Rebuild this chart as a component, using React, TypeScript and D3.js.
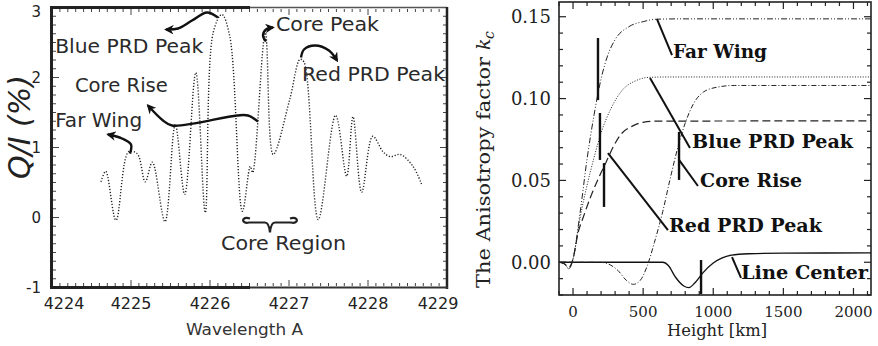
import React from 'react';
import * as d3 from 'd3';

// ---------- Left panel data (Q/I spectrum) ----------
const wavelengths = [
  4224.62, 4224.68, 4224.81, 4224.97, 4225.08, 4225.18, 4225.27, 4225.43, 4225.56, 4225.68,
  4225.82, 4225.94, 4226.04, 4226.15, 4226.25, 4226.41, 4226.51, 4226.54, 4226.70, 4226.80,
  4227.01, 4227.14, 4227.19, 4227.37, 4227.59, 4227.73, 4227.81, 4227.92, 4228.06, 4228.19,
  4228.28, 4228.41, 4228.57, 4228.68,
];
const qOverI = [
  0.51, 0.66, -0.04, 0.94, 0.91, 0.51, 0.79, -0.06, 1.33, 0.33,
  2.07, 0.07, 2.64, 2.9, 2.59, 0.09, 0.73, 0.64, 2.64, 0.9,
  1.69, 2.26, 2.22, -0.03, 1.46, 0.59, 1.44, 0.36, 1.16, 0.94,
  0.87, 0.9, 0.73, 0.47,
];
const leftXTicks = [4224, 4225, 4226, 4227, 4228, 4229];
const leftYTicks = [-1, 0, 1, 2, 3];

// ---------- Right panel data (anisotropy factor vs height) ----------
const farWingH = [-100, -60, -30, 0, 50, 100, 150, 200, 250, 300, 400, 500, 600, 800, 2125];
const farWingK = [0, -0.001, -0.004, 0.002, 0.03, 0.063, 0.09, 0.112, 0.127, 0.136, 0.144, 0.147, 0.1485, 0.1487, 0.1487];
const bluePrdH = [-100, -60, -30, 0, 50, 100, 150, 200, 271, 350, 450, 548, 700, 2125];
const bluePrdK = [0, -0.001, -0.004, 0.002, 0.027, 0.047, 0.064, 0.079, 0.094, 0.105, 0.111, 0.113, 0.1132, 0.1132];
const coreRiseH = [-100, 190, 250, 320, 380, 430, 480, 530, 580, 640, 690, 750, 800, 860, 930, 1030, 1150, 2125];
const coreRiseK = [0, 0, -0.001, -0.005, -0.011, -0.0135, -0.011, -0.002, 0.012, 0.031, 0.05, 0.071, 0.085, 0.097, 0.104, 0.107, 0.108, 0.108];
const redPrdH = [-100, -60, -30, 0, 36, 71, 121, 180, 235, 290, 340, 420, 500, 600, 2125];
const redPrdK = [0, -0.001, -0.003, 0.002, 0.018, 0.027, 0.039, 0.051, 0.061, 0.071, 0.078, 0.083, 0.0855, 0.0862, 0.0864];
const lineCenterH = [-100, 640, 680, 730, 790, 826, 870, 926, 1000, 1060, 1130, 1250, 1500, 2125];
const lineCenterK = [0, 0, -0.002, -0.009, -0.0145, -0.0155, -0.0125, -0.0065, -0.0005, 0.0025, 0.0043, 0.0052, 0.0056, 0.0057];
const rightXTicks = [0, 500, 1000, 1500, 2000];
const rightYTicks = [0, 0.05, 0.1, 0.15];

const SANS = 'DejaVu Sans, Verdana, sans-serif';
const SERIF = 'DejaVu Serif, Liberation Serif, serif';

export default function App() {
  const xL = d3.scaleLinear().domain([4224, 4229]).range([52, 447]);
  const yL = d3.scaleLinear().domain([-1, 3]).range([287.5, 7.5]);
  const xR = d3.scaleLinear().domain([-100, 2125]).range([559, 871]);
  const yR = d3.scaleLinear().domain([-0.02, 0.159]).range([295, 2]);

  const spec = d3
    .line<number>()
    .x((_, i) => xL(wavelengths[i]))
    .y((d) => yL(d))
    .curve(d3.curveCatmullRom.alpha(0.5));

  const lineR = (hs: number[]) =>
    d3
      .line<number>()
      .x((_, i) => xR(hs[i]))
      .y((d) => yR(d))
      .curve(d3.curveMonotoneX);

  const arrowL = d3
    .line<[number, number]>()
    .x((d) => xL(d[0]))
    .y((d) => yL(d[1]))
    .curve(d3.curveCatmullRom.alpha(0.5));

  // annotation arrows in data coords (left)
  const arrows: [number, number][][] = [
    [[4226.101, 2.857], [4225.962, 2.929], [4225.772, 2.814], [4225.595, 2.7], [4225.443, 2.686]],
    [[4226.709, 2.514], [4226.671, 2.6], [4226.709, 2.686], [4226.797, 2.714]],
    [[4227.152, 2.286], [4227.19, 2.4], [4227.329, 2.457], [4227.506, 2.386], [4227.608, 2.243]],
    [[4224.987, 0.914], [4225.0, 1.043], [4224.886, 1.129], [4224.709, 1.186]],
  ];
  const coreRiseArrow: [number, number][] = [
    [4226.608, 1.371], [4226.481, 1.457], [4226.342, 1.457], [4225.519, 1.314], [4225.405, 1.386], [4225.215, 1.6],
  ];

  const leftLabels = [
    { t: 'Blue PRD Peak', x: 4224.04, y: 2.357, w: 148 },
    { t: 'Core Rise', x: 4224.29, y: 1.8, w: 93 },
    { t: 'Far Wing', x: 4224.04, y: 1.3, w: 87 },
    { t: 'Core Peak', x: 4226.835, y: 2.671, w: 103 },
    { t: 'Red PRD Peak', x: 4227.165, y: 1.957, w: 143 },
    { t: 'Core Region', x: 4226.139, y: -0.471, w: 125 },
  ];

  // brace
  const bxl = xL(4226.443), bxr = xL(4227.076), bxc = xL(4226.759);
  const byt = yL(-0.057), byb = yL(-0.214);
  const brace = `M ${bxl + 5},${byt - 3} C ${bxl - 4},${byt - 6} ${bxl - 4},${byt + 3} ${bxl + 4},${byt + 1}
    L ${bxc - 5},${byt + 1} Q ${bxc - 1},${byt + 1} ${bxc},${byb} Q ${bxc + 1},${byt + 1} ${bxc + 5},${byt + 1}
    L ${bxr - 4},${byt + 1} C ${bxr + 4},${byt + 3} ${bxr + 4},${byt - 6} ${bxr - 5},${byt - 3}`;

  // right annotations
  const bars = [
    [178, 0.0991, 0.137],
    [192, 0.0625, 0.0912],
    [221, 0.0338, 0.0606],
    [756, 0.0503, 0.0796],
    [913, -0.0194, 0.0014],
  ];
  const leaders = [
    [599, 0.1486, 706, 0.1266],
    [549, 0.1126, 834, 0.0698],
    [756, 0.0625, 891, 0.0466],
    [249, 0.0667, 677, 0.0197],
    [1134, 0.0032, 1198, -0.0096],
  ];
  const rightLabels = [
    { t: 'Far Wing', h: 713, k: 0.1248, w: 94 },
    { t: 'Blue PRD Peak', h: 849, k: 0.0698, w: 161 },
    { t: 'Core Rise', h: 906, k: 0.046, w: 102 },
    { t: 'Red PRD Peak', h: 684, k: 0.0185, w: 153 },
    { t: 'Line Center', h: 1198, k: -0.0102, w: 127 },
  ];

  const lxMinor = d3.range(4224, 4229.001, 0.1);
  const lyMinor = d3.range(-1, 3.001, 0.125);
  const rxMinor = d3.range(-100, 2125, 100);
  const ryMinor = d3.range(-0.02, 0.159, 0.01);

  return (
    <svg width={878} height={346} style={{ position: 'absolute', left: 0, top: 0, background: '#fff' }}>
      <defs>
        <marker id="ah" viewBox="0 0 10 10" refX="8" refY="5" markerWidth="4" markerHeight="4" orient="auto" markerUnits="strokeWidth">
          <path d="M0,0 L10,5 L0,10 L3,5 Z" fill="#111" />
        </marker>
      </defs>

      {/* ---------------- LEFT PANEL ---------------- */}
      <g>
        {lxMinor.map((t, i) => {
          const major = Math.abs(t - Math.round(t)) < 1e-6;
          return (
            <g key={'lx' + i} stroke="#444" strokeWidth={1}>
              <line x1={xL(t)} x2={xL(t)} y1={286} y2={major ? 280 : 283} />
              <line x1={xL(t)} x2={xL(t)} y1={9} y2={major ? 15 : 12} />
            </g>
          );
        })}
        {lyMinor.map((t, i) => {
          const major = Math.abs(t - Math.round(t)) < 1e-6;
          return (
            <g key={'ly' + i} stroke="#444" strokeWidth={1}>
              <line x1={53} x2={major ? 59 : 56} y1={yL(t)} y2={yL(t)} />
              <line x1={446} x2={major ? 440 : 443} y1={yL(t)} y2={yL(t)} />
            </g>
          );
        })}
        <line x1={250} x2={447} y1={7.5} y2={7.5} stroke="#555" strokeWidth={1.5} />
        <line x1={51} x2={250} y1={7.5} y2={7.5} stroke="#222" strokeWidth={3} />
        <line x1={447} x2={447} y1={7} y2={289} stroke="#222" strokeWidth={2.5} />
        <line x1={250} x2={448} y1={287.5} y2={287.5} stroke="#333" strokeWidth={2} />
        <line x1={50} x2={250} y1={287.5} y2={287.5} stroke="#222" strokeWidth={3} />
        <line x1={51.5} x2={51.5} y1={6} y2={289} stroke="#222" strokeWidth={3} />

        {leftYTicks.map((t) => (
          <text key={'lyt' + t} x={41} y={Math.max(yL(t), 12)} dy="0.35em" textAnchor="end" fontFamily={SANS} fontSize={15} fill="#222">
            {t}
          </text>
        ))}
        {leftXTicks.map((t) => (
          <text key={'lxt' + t} x={Math.min(Math.max(xL(t), 64), 438)} y={309} textAnchor="middle" fontFamily={SANS} fontSize={16} fill="#222">
            {t}
          </text>
        ))}
        <text x={186} y={335} fontFamily={SANS} fontSize={16} fill="#333" textLength={117} lengthAdjust="spacingAndGlyphs">
          Wavelength A
        </text>
        <text transform="translate(30,127) rotate(-90)" textAnchor="middle" fontFamily={SANS} fontSize={30} fontStyle="italic" fill="#222">
          Q/I (%)
        </text>

        <path d={spec(qOverI) || ''} fill="none" stroke="#222" strokeWidth={1.4} strokeDasharray="1.2,1.8" />

        {arrows.map((a, i) => (
          <path key={'ar' + i} d={arrowL(a) || ''} fill="none" stroke="#111" strokeWidth={2.4} markerEnd="url(#ah)" />
        ))}
        <path d={arrowL(coreRiseArrow) || ''} fill="none" stroke="#111" strokeWidth={2.4} markerEnd="url(#ah)" />
        <path d={brace} fill="none" stroke="#222" strokeWidth={2.2} />
        {leftLabels.map((l) => (
          <text key={l.t} x={xL(l.x)} y={yL(l.y)} fontFamily={SANS} fontSize={19} fill="#2a2a2a" textLength={l.w} lengthAdjust="spacingAndGlyphs">
            {l.t}
          </text>
        ))}
      </g>

      {/* ---------------- RIGHT PANEL ---------------- */}
      <g>
        {rxMinor.map((t, i) => {
          const major = t % 500 === 0;
          return (
            <g key={'rx' + i} stroke="#222" strokeWidth={1.2}>
              <line x1={xR(t)} x2={xR(t)} y1={295} y2={major ? 288 : 291} />
              <line x1={xR(t)} x2={xR(t)} y1={2} y2={major ? 9 : 6} />
            </g>
          );
        })}
        {ryMinor.map((t, i) => {
          const major = Math.abs(t / 0.05 - Math.round(t / 0.05)) < 1e-6;
          return (
            <g key={'ry' + i} stroke="#222" strokeWidth={1.2}>
              <line x1={559} x2={major ? 566 : 563} y1={yR(t)} y2={yR(t)} />
              <line x1={871} x2={major ? 864 : 867} y1={yR(t)} y2={yR(t)} />
            </g>
          );
        })}
        <rect x={559} y={2} width={312} height={293} fill="none" stroke="#222" strokeWidth={1.6} />

        {rightYTicks.map((t) => (
          <text key={'ryt' + t} x={551} y={yR(t)} dy="0.36em" textAnchor="end" fontFamily={SERIF} fontSize={18} fill="#222">
            {t.toFixed(2)}
          </text>
        ))}
        {rightXTicks.map((t) => (
          <text key={'rxt' + t} x={xR(t)} y={317} textAnchor="middle" fontFamily={SERIF} fontSize={15} fill="#222">
            {t}
          </text>
        ))}
        <text x={667} y={336} fontFamily={SERIF} fontSize={16} fill="#222" textLength={100} lengthAdjust="spacingAndGlyphs">
          Height [km]
        </text>
        <g transform="translate(490,288) rotate(-90)">
          <text x={0} y={0} fontFamily={SERIF} fontSize={19} fill="#222" textLength={231} lengthAdjust="spacingAndGlyphs">
            The Anisotropy factor
          </text>
          <text x={238} y={0} fontFamily={SERIF} fontSize={19} fontStyle="italic" fill="#222">
            k
          </text>
          <text x={249} y={4} fontFamily={SERIF} fontSize={14} fontStyle="italic" fill="#222">
            c
          </text>
        </g>

        <path d={lineR(lineCenterH)(lineCenterK) || ''} fill="none" stroke="#111" strokeWidth={1.3} />
        <path d={lineR(coreRiseH)(coreRiseK) || ''} fill="none" stroke="#222" strokeWidth={1} strokeDasharray="5,2,1,2" />
        <path d={lineR(redPrdH)(redPrdK) || ''} fill="none" stroke="#222" strokeWidth={1.2} strokeDasharray="8,4" />
        <path d={lineR(bluePrdH)(bluePrdK) || ''} fill="none" stroke="#222" strokeWidth={1} strokeDasharray="1,1.6" />
        <path d={lineR(farWingH)(farWingK) || ''} fill="none" stroke="#222" strokeWidth={1} strokeDasharray="6,2,1,2,1,2" />

        {bars.map((b, i) => (
          <line key={'b' + i} x1={xR(b[0])} x2={xR(b[0])} y1={yR(b[1])} y2={yR(b[2])} stroke="#111" strokeWidth={2.4} />
        ))}
        {leaders.map((l, i) => (
          <line key={'l' + i} x1={xR(l[0])} y1={yR(l[1])} x2={xR(l[2])} y2={yR(l[3])} stroke="#111" strokeWidth={2} />
        ))}
        {rightLabels.map((l) => (
          <text key={l.t} x={xR(l.h)} y={yR(l.k)} fontFamily={SERIF} fontWeight="bold" fontSize={18} fill="#111" textLength={l.w} lengthAdjust="spacingAndGlyphs">
            {l.t}
          </text>
        ))}
      </g>
    </svg>
  );
}
